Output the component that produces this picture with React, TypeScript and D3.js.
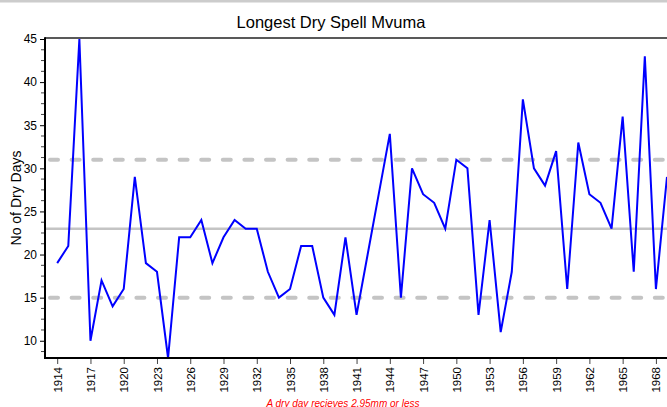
import { useEffect, useRef } from 'react';
import * as d3 from 'd3';

// yearly values
const years = d3.range(1914, 1970);
const dryDays = [
  19, 21, 45, 10, 17, 14, 16, 29, 19, 18,
  8, 22, 22, 24, 19, 22, 24, 23, 23, 18,
  15, 16, 21, 21, 15, 13, 22, 13, 20, 27,
  34, 15, 30, 27, 26, 23, 31, 30, 13, 24,
  11, 18, 38, 30, 28, 32, 16, 33, 27, 26,
  23, 36, 18, 43, 16, 29,
];
const xTickYears = d3.range(1914, 1970, 3);
const yTickValues = [10, 15, 20, 25, 30, 35, 40, 45];
const meanLine = 23;
const bandLines = [31, 15];

const W = 667;
const H = 407;

const App = () => {
  const svgRef = useRef<SVGSVGElement>(null);

  useEffect(() => {
    if (!svgRef.current) return;
    const svg = d3.select(svgRef.current);
    svg.selectAll('*').remove();

    const left = 45, top = 38, bottom = 358, right = 667;

    const x = d3.scaleLinear().domain([1912.9, 1969]).range([left, right]);
    const y = d3.scaleLinear().domain([8, 45]).range([bottom, top + 1]);

    // thin grey strip on top
    svg.append('rect').attr('x', 0).attr('y', 0).attr('width', W).attr('height', 2.5).attr('fill', '#cccccc');

    // title
    svg.append('text')
      .attr('x', 331).attr('y', 28)
      .attr('text-anchor', 'middle')
      .style('font-family', '"Liberation Sans", Arial, sans-serif')
      .style('font-size', '16.5px')
      .text('Longest Dry Spell Mvuma');

    // reference lines
    svg.append('line')
      .attr('x1', left).attr('x2', right + 5)
      .attr('y1', y(meanLine)).attr('y2', y(meanLine))
      .attr('stroke', '#c4c4c4').attr('stroke-width', 2.5);

    svg.selectAll('.band')
      .data(bandLines)
      .enter()
      .append('line')
        .attr('x1', left + 5).attr('x2', right + 5)
        .attr('y1', d => y(d)).attr('y2', d => y(d))
        .attr('stroke', '#c4c4c4').attr('stroke-width', 4)
        .attr('stroke-linecap', 'round')
        .attr('stroke-dasharray', '8 13.6');

    // series
    const line = d3.line<number>()
      .x((_, i) => x(years[i]))
      .y(d => y(d));
    svg.append('path')
      .datum(dryDays)
      .attr('d', line)
      .attr('fill', 'none')
      .attr('stroke', '#0000ff')
      .attr('stroke-width', 2)
      .attr('stroke-linejoin', 'miter');

    // frame
    svg.append('line').attr('x1', left).attr('x2', right + 5).attr('y1', top).attr('y2', top)
      .attr('stroke', '#222').attr('stroke-width', 1.5);
    svg.append('line').attr('x1', left).attr('x2', right + 5).attr('y1', bottom).attr('y2', bottom)
      .attr('stroke', '#000').attr('stroke-width', 2);
    svg.append('line').attr('x1', left).attr('x2', left).attr('y1', top - 0.75).attr('y2', bottom + 1)
      .attr('stroke', '#000').attr('stroke-width', 2);

    // y axis
    const yMinor = d3.range(8.75, 45.01, 1.25).filter(v => !yTickValues.includes(v));
    const yAxis = svg.append('g').attr('transform', `translate(${left - 1},0)`);
    yAxis.call(
      d3.axisLeft(y).tickValues(yTickValues).tickSize(4).tickPadding(3).tickFormat(d3.format('d'))
    );
    yAxis.select('.domain').remove();
    yAxis.selectAll('text')
      .style('font-family', '"Liberation Sans", Arial, sans-serif')
      .style('font-size', '12px')
      .attr('fill', '#000');
    yAxis.selectAll('.minor')
      .data(yMinor)
      .enter()
      .append('line')
        .attr('x1', -3).attr('x2', 0)
        .attr('y1', d => y(d)).attr('y2', d => y(d))
        .attr('stroke', '#444').attr('stroke-width', 1);

    // x axis
    const xAxis = svg.append('g').attr('transform', `translate(0,${bottom + 1})`);
    xAxis.call(d3.axisBottom(x).tickValues(xTickYears).tickSize(5).tickFormat(d3.format('d')));
    xAxis.select('.domain').remove();
    xAxis.selectAll('line').attr('stroke', '#444');
    xAxis.selectAll('text')
      .attr('transform', 'rotate(-90)')
      .attr('x', -8).attr('y', 0).attr('dy', '0.35em')
      .style('text-anchor', 'end')
      .style('font-family', '"Liberation Sans", Arial, sans-serif')
      .style('font-size', '11.5px')
      .attr('fill', '#000');

    // y axis title
    svg.append('text')
      .attr('transform', `translate(21,${(top + bottom) / 2}) rotate(-90)`)
      .attr('text-anchor', 'middle')
      .style('font-family', '"Liberation Sans", Arial, sans-serif')
      .style('font-size', '14px')
      .text('No of Dry Days');

    // footnote (sits on the lower edge, descenders cut off as in the source)
    svg.append('text')
      .attr('x', 343).attr('y', 406.5)
      .attr('text-anchor', 'middle')
      .attr('fill', '#ff0000')
      .style('font-family', '"Liberation Sans", Arial, sans-serif')
      .style('font-style', 'italic')
      .style('font-size', '10px')
      .text('A dry day recieves 2.95mm or less');
  }, []);

  return (
    <svg
      ref={svgRef}
      width={W}
      height={H}
      viewBox={`0 0 ${W} ${H}`}
      style={{ position: 'absolute', left: 0, top: 0, background: '#fff' }}
    />
  );
};

export default App;
